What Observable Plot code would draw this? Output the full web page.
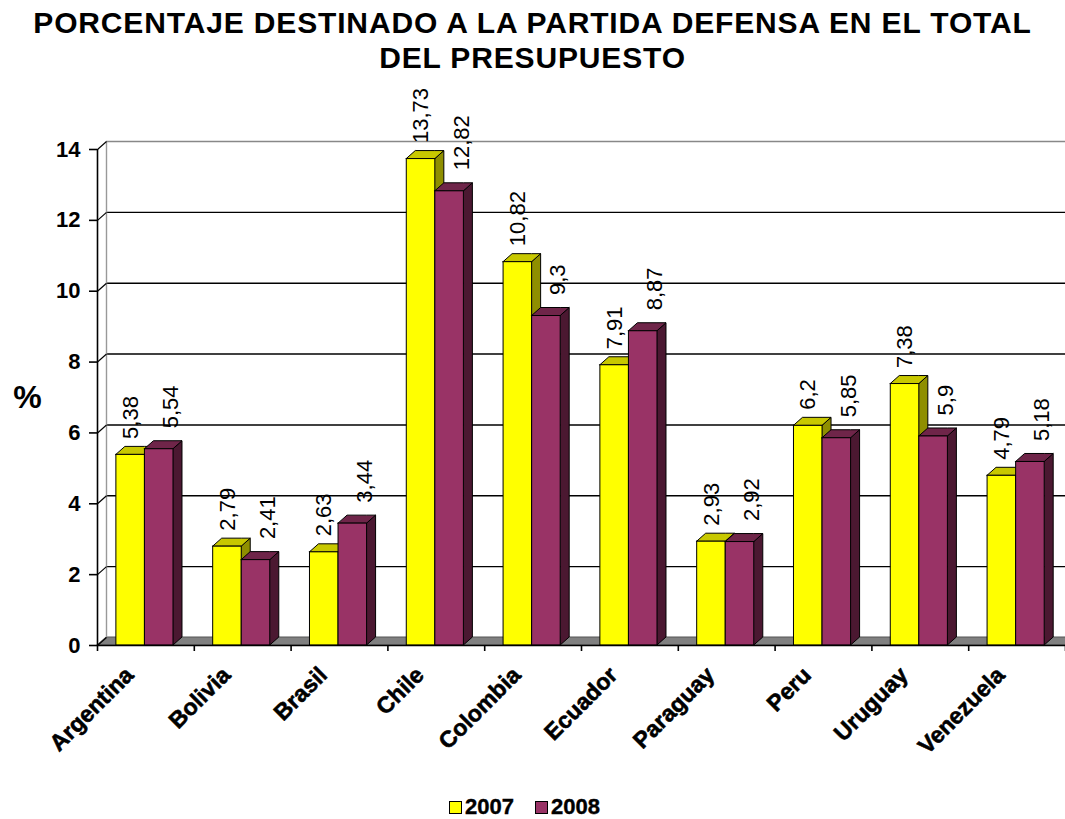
<!DOCTYPE html>
<html>
<head>
<meta charset="utf-8">
<script src="https://cdn.jsdelivr.net/npm/d3@7"></script>
<script src="https://cdn.jsdelivr.net/npm/@observablehq/plot@0.6"></script>
<style>
  html, body { margin: 0; padding: 0; background: #fff; }
  body { width: 1065px; height: 819px; position: relative; overflow: hidden; font-family: "Liberation Sans", Arial, sans-serif; }
  #title { position: absolute; top: 5px; left: 0; width: 1065px; text-align: center; font-weight: bold; font-size: 30px; line-height: 35px; letter-spacing: 0.85px; color: #000; }
  #chart { position: absolute; top: 80px; left: 0; }
  #legend { position: absolute; top: 796px; left: 449px; display: flex; align-items: center; height: 22px; font-weight: bold; font-size: 22px; line-height: 22px; -webkit-text-stroke: 0.4px #000; }
  .sw { width: 13px; height: 13px; box-sizing: border-box; border: 1.5px solid #000; margin-right: 3px; }
  .item { display: flex; align-items: center; margin-right: 21px; }
</style>
</head>
<body>
<div id="title">PORCENTAJE DESTINADO A LA PARTIDA DEFENSA EN EL TOTAL<br>DEL PRESUPUESTO</div>
<div id="chart"></div>
<div id="legend"></div>
<script>
// ---- Data ----
const countries = ["Argentina", "Bolivia", "Brasil", "Chile", "Colombia", "Ecuador", "Paraguay", "Peru", "Uruguay", "Venezuela"];
const v2007 = [5.38, 2.79, 2.63, 13.73, 10.82, 7.91, 2.93, 6.2, 7.38, 4.79];
const v2008 = [5.54, 2.41, 3.44, 12.82, 9.3, 8.87, 2.92, 5.85, 5.9, 5.18];
const seriesNames = ["2007", "2008"];
const yTicks = [0, 2, 4, 6, 8, 10, 12, 14];
const yMax = 14;

// ---- Layout ----
const W = 1065, H = 700, ML = 97, MR = 0, MT = 69, MB = 135;
const n = countries.length;
const pxX = (W - ML - MR) / n;
const pxY = (H - MT - MB) / yMax;
const dX = 9 / pxX, dY = 8 / pxY;       // 3D depth offset in data units
const BAR_OFF = 0.195, BAR_W = 0.295;

const styles = [
  {name: seriesNames[0], values: v2007, off: BAR_OFF, front: "#FFFF00", top: "#C8C800", side: "#8F8F00", ldx: 0, ldy: -16},
  {name: seriesNames[1], values: v2008, off: BAR_OFF + BAR_W, front: "#993366", top: "#6F2549", side: "#4B1831", ldx: 12, ldy: -21}
];

const fmt = v => String(v).replace(".", ",");

const marks = [];

// floor
const floor = [
  {x: 0, y1: 0, y2: 0},
  {x: dX, y1: 0, y2: dY},
  {x: n, y1: 0, y2: dY},
  {x: n + dX, y1: dY, y2: dY}
];
marks.push(Plot.areaY(floor, {x: "x", y1: "y1", y2: "y2", fill: "#808080", stroke: "#555", strokeWidth: 1}));

// back wall: gridlines, left edge, tick connectors
marks.push(Plot.ruleY(yTicks.filter(t => t > 0 && t < yMax), {y: d => d + dY, x1: dX, x2: n + dX, stroke: "#000", strokeWidth: 1.4}));
marks.push(Plot.ruleY([yMax], {y: d => d + dY, x1: dX, x2: n + dX, stroke: "#888", strokeWidth: 1.4}));
marks.push(Plot.ruleX([dX], {x: d => d, y1: dY, y2: yMax + dY, stroke: "#999", strokeWidth: 1.4}));
marks.push(Plot.link(yTicks, {x1: 0, y1: d => d, x2: dX, y2: d => d + dY, stroke: "#000", strokeWidth: 1.2}));

// bars
for (const s of styles) {
  const fronts = countries.map((c, i) => ({c, i, x1: i + s.off, x2: i + s.off + BAR_W, y0: 0, v: s.values[i]}));
  const sides = fronts.flatMap(d => [
    {k: d.i, x: d.x2, y1: 0, y2: d.v},
    {k: d.i, x: d.x2 + dX, y1: dY, y2: d.v + dY}
  ]);
  const tops = fronts.flatMap(d => [
    {k: d.i, x: d.x1, y1: d.v, y2: d.v},
    {k: d.i, x: d.x1 + dX, y1: d.v, y2: d.v + dY},
    {k: d.i, x: d.x2, y1: d.v, y2: d.v + dY},
    {k: d.i, x: d.x2 + dX, y1: d.v + dY, y2: d.v + dY}
  ]);
  marks.push(Plot.areaY(sides, {x: "x", y1: "y1", y2: "y2", z: "k", fill: s.side, stroke: "#000", strokeWidth: 1}));
  marks.push(Plot.areaY(tops, {x: "x", y1: "y1", y2: "y2", z: "k", fill: s.top, stroke: "#000", strokeWidth: 1}));
  marks.push(Plot.rect(fronts, {x1: "x1", x2: "x2", y1: "y0", y2: "v", fill: s.front, stroke: "#000", strokeWidth: 1}));
  s.fronts = fronts;
}

// value labels
for (const s of styles) {
  marks.push(Plot.text(s.fronts, {
    x: d => (d.x1 + d.x2) / 2, y: "v", text: d => fmt(d.v),
    rotate: -90, textAnchor: "start", dx: s.ldx, dy: s.ldy,
    fontSize: 22, fill: "#000"
  }));
}

// axes
marks.push(Plot.ruleX([0], {y1: 0, y2: yMax, stroke: "#000", strokeWidth: 1.6}));
marks.push(Plot.ruleY([0], {x1: 0, x2: n, stroke: "#000", strokeWidth: 1.6}));
marks.push(Plot.axisY(yTicks, {tickSize: 8, tickPadding: 9, fontSize: 22, fontWeight: "bold", strokeWidth: 1.6, label: null}));
marks.push(Plot.axisX(d3.range(n + 1), {tickSize: 6, tickFormat: () => "", strokeWidth: 1.6, label: null}));
marks.push(Plot.text(countries, {
  x: (d, i) => i + 0.5, frameAnchor: "bottom", text: d => d,
  rotate: -45, textAnchor: "end", dx: -11, dy: 31,
  fontSize: 23, fontWeight: "bold", fill: "#000", stroke: "#000", strokeWidth: 0.6
}));
marks.push(Plot.text(["%"], {frameAnchor: "left", text: d => d, dx: -70, textAnchor: "middle", fontSize: 32, fontWeight: "bold", fill: "#000"}));

const chart = Plot.plot({
  width: W, height: H,
  marginLeft: ML, marginRight: MR, marginTop: MT, marginBottom: MB,
  x: {domain: [0, n], axis: null},
  y: {domain: [0, yMax], axis: null},
  style: {fontFamily: "'Liberation Sans', Arial, sans-serif", background: "transparent", color: "#000", overflow: "visible"},
  marks
});
document.getElementById("chart").append(chart);

// legend
const legend = document.getElementById("legend");
for (const s of styles) {
  const item = document.createElement("div");
  item.className = "item";
  const sw = document.createElement("div");
  sw.className = "sw";
  sw.style.background = s.front;
  const t = document.createElement("span");
  t.textContent = s.name;
  item.append(sw, t);
  legend.append(item);
}
</script>
</body>
</html>
